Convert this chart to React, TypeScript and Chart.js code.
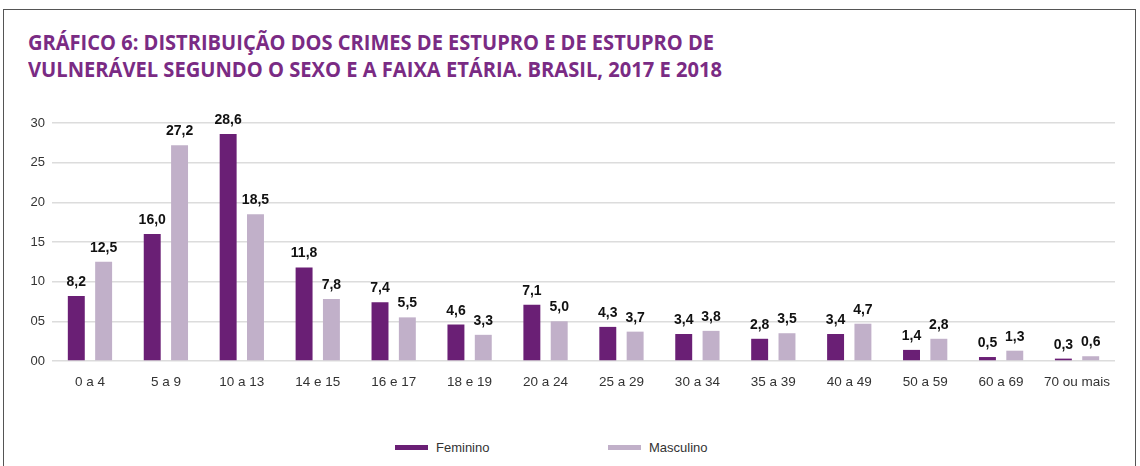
import React, { useEffect, useRef } from "react";
import { Chart, registerables } from "chart.js";

Chart.register(...registerables);

const categories = ["0 a 4", "5 a 9", "10 a 13", "14 e 15", "16 e 17", "18 e 19", "20 a 24", "25 a 29", "30 a 34", "35 a 39", "40 a 49", "50 a 59", "60 a 69", "70 ou mais"];
const feminino = [8.2, 16.0, 28.6, 11.8, 7.4, 4.6, 7.1, 4.3, 3.4, 2.8, 3.4, 1.4, 0.5, 0.3];
const masculino = [12.5, 27.2, 18.5, 7.8, 5.5, 3.3, 5.0, 3.7, 3.8, 3.5, 4.7, 2.8, 1.3, 0.6];
const yTicks = [0, 5, 10, 15, 20, 25, 30];
const seriesNames = ["Feminino", "Masculino"];

const C_FEM = "#6a1f75";
const C_MAS = "#c1b0c9";
const FONT = "'Liberation Sans', Arial, sans-serif";
const TITLE_LINES = [
  "GRÁFICO 6: DISTRIBUIÇÃO DOS CRIMES DE ESTUPRO E DE ESTUPRO DE",
  "VULNERÁVEL SEGUNDO O SEXO E A FAIXA ETÁRIA. BRASIL, 2017 E 2018",
];

const valueLabels = {
  id: "valueLabels",
  afterDatasetsDraw(chart: any) {
    const ctx = chart.ctx;
    ctx.save();
    ctx.font = `bold 14px ${FONT}`;
    ctx.fillStyle = "#111";
    ctx.textAlign = "center";
    ctx.textBaseline = "alphabetic";
    chart.data.datasets.forEach((ds: any, i: number) => {
      const meta = chart.getDatasetMeta(i);
      meta.data.forEach((el: any, j: number) => {
        const v = ds.data[j] as number;
        ctx.fillText(v.toFixed(1).replace(".", ","), el.x, el.y - 10);
      });
    });
    ctx.restore();
  },
};

export default function App() {
  const ref = useRef<HTMLCanvasElement | null>(null);
  const t1 = useRef<HTMLSpanElement | null>(null);
  const t2 = useRef<HTMLSpanElement | null>(null);

  useEffect(() => {
    document.body.style.margin = "0";
    [t1.current, t2.current].forEach((el, k) => {
      if (!el) return;
      const target = k === 0 ? 686 : 694;
      const w = el.getBoundingClientRect().width;
      if (w > 0) el.style.transform = `scaleX(${target / w})`;
    });
    const chart = new Chart(ref.current as HTMLCanvasElement, {
      type: "bar",
      data: {
        labels: categories,
        datasets: [
          { label: seriesNames[0], data: feminino, backgroundColor: C_FEM, barPercentage: 0.62, categoryPercentage: 0.72 },
          { label: seriesNames[1], data: masculino, backgroundColor: C_MAS, barPercentage: 0.62, categoryPercentage: 0.72 },
        ],
      },
      options: {
        responsive: false,
        animation: false,
        layout: { padding: { left: 0, right: 25, top: 23, bottom: 0 } },
        plugins: { legend: { display: false }, tooltip: { enabled: false } },
        scales: {
          x: {
            grid: { display: false },
            border: { display: false },
            ticks: { color: "#333", font: { family: FONT, size: 13.5 }, padding: 5, maxRotation: 0, autoSkip: false },
            afterFit: (s: any) => { s.height = 39; },
          },
          y: {
            min: 0,
            max: 30,
            afterBuildTicks: (s: any) => { s.ticks = yTicks.map((v) => ({ value: v })); },
            grid: { color: "#dcdcdc", lineWidth: 1.5, drawTicks: false },
            border: { display: false },
            ticks: {
              color: "#333",
              font: { family: FONT, size: 13 },
              padding: 7,
              callback: (v: any) => String(v).padStart(2, "0"),
            },
            afterFit: (s: any) => { s.width = 52; },
          },
        },
      },
      plugins: [valueLabels],
    });
    return () => chart.destroy();
  }, []);

  const titleStyle: React.CSSProperties = {
    position: "absolute",
    left: 28,
    fontFamily: "'Open Sans', sans-serif",
    fontWeight: 700,
    fontSize: 21,
    color: "#7a2b84",
    whiteSpace: "nowrap",
    transformOrigin: "left center",
    lineHeight: "26px",
  };

  const legendStyle: React.CSSProperties = {
    position: "absolute",
    top: 439,
    fontFamily: FONT,
    fontSize: 13,
    color: "#333",
    display: "flex",
    alignItems: "center",
    height: 16,
  };

  return (
    <div style={{ position: "relative", width: 1140, height: 466, background: "#fff", overflow: "hidden" }}>
      <div style={{ position: "absolute", left: 3, top: 9, width: 1133, height: 470, border: "1px solid #555", boxSizing: "border-box" }} />
      <span ref={t1} style={{ ...titleStyle, top: 29 }}>{TITLE_LINES[0]}</span>
      <span ref={t2} style={{ ...titleStyle, top: 56 }}>{TITLE_LINES[1]}</span>
      <canvas ref={ref} width={1140} height={300} style={{ position: "absolute", left: 0, top: 100, display: "block" }} />
      <div style={{ ...legendStyle, left: 395 }}>
        <span style={{ display: "inline-block", width: 33, height: 5, background: C_FEM, marginRight: 8 }} />
        <span>{seriesNames[0]}</span>
      </div>
      <div style={{ ...legendStyle, left: 608 }}>
        <span style={{ display: "inline-block", width: 33, height: 5, background: C_MAS, marginRight: 8 }} />
        <span>{seriesNames[1]}</span>
      </div>
    </div>
  );
}
